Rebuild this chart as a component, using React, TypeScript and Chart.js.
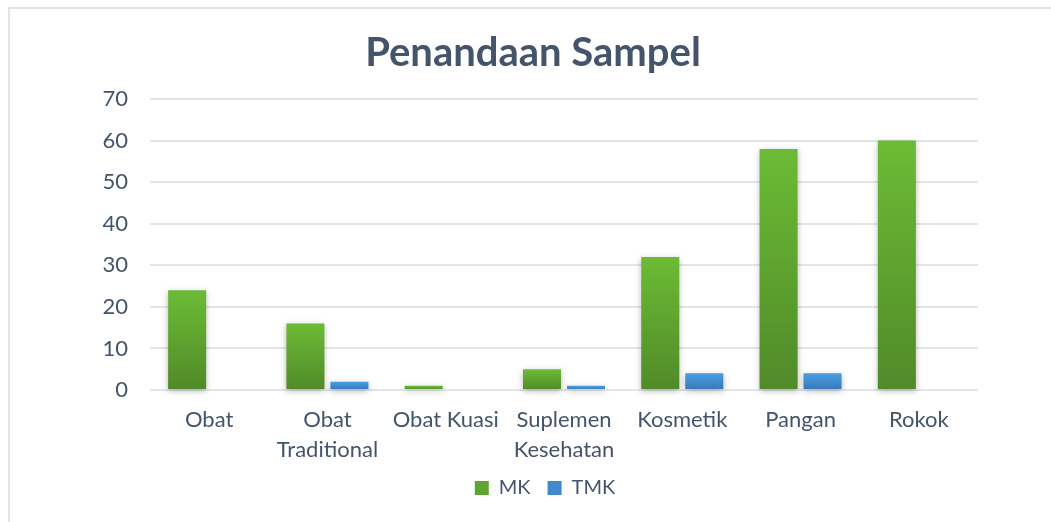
import React, { useEffect, useRef } from "react";
import { Chart, registerables } from "chart.js";

Chart.register(...registerables);

// ---- data ----
const categories: (string | string[])[] = [
  "Obat",
  ["Obat", "Traditional"],
  "Obat Kuasi",
  ["Suplemen", "Kesehatan"],
  "Kosmetik",
  "Pangan",
  "Rokok",
];
const seriesNames = ["MK", "TMK"];
const mkValues = [24, 16, 1, 5, 32, 58, 60];
const tmkValues = [0, 2, 0, 1, 4, 4, 0];
const yMin = 0;
const yMax = 70;
const yStep = 10;
const chartTitle = "Penandaan Sampel";

// ---- styles ----
const textColor = "#44546a";
const greenLight = "#6cbb35";
const greenDark = "#518a29";
const blueLight = "#4a9ee3";
const blueDark = "#3877b8";
const legendColors = ["#5ea431", "#4288d0"];

const makeFill = (light: string, dark: string) => (c: any) => {
  const chart = c.chart;
  const y = chart.scales && chart.scales.y;
  if (!y || c.type !== "data") return light;
  const v = c.parsed ? c.parsed.y : c.raw;
  const top = y.getPixelForValue(v);
  const base = y.getPixelForValue(0);
  if (!isFinite(top) || !isFinite(base) || Math.abs(base - top) < 1) return light;
  const g = chart.ctx.createLinearGradient(0, top, 0, base);
  g.addColorStop(0, light);
  g.addColorStop(1, dark);
  return g;
};

const shadowPlugin = {
  id: "barShadow",
  beforeDatasetsDraw(chart: any) {
    const c = chart.ctx;
    c.save();
    c.shadowColor = "rgba(0,0,0,0.28)";
    c.shadowBlur = 6;
    c.shadowOffsetX = 0;
    c.shadowOffsetY = 2;
  },
  afterDatasetsDraw(chart: any) {
    chart.ctx.restore();
  },
};

// nudges the (full width) legend so its items sit where the reference has them
const legendShiftPlugin = {
  id: "legendShift",
  afterLayout(chart: any) {
    if (chart.legend) {
      chart.legend.left += 12;
      chart.legend.right += 12;
    }
  },
};

export default function App() {
  const canvasRef = useRef<HTMLCanvasElement | null>(null);

  useEffect(() => {
    if (!canvasRef.current) return;
    const chart = new Chart(canvasRef.current, {
      type: "bar",
      data: {
        labels: categories,
        datasets: [
          {
            label: seriesNames[0],
            data: mkValues,
            backgroundColor: makeFill(greenLight, greenDark),
            borderWidth: 0,
            categoryPercentage: 0.744,
            barPercentage: 0.864,
            clip: false,
          } as any,
          {
            label: seriesNames[1],
            data: tmkValues,
            backgroundColor: makeFill(blueLight, blueDark),
            borderWidth: 0,
            categoryPercentage: 0.744,
            barPercentage: 0.864,
            clip: false,
          } as any,
        ],
      },
      options: {
        responsive: false,
        animation: false,
        layout: { padding: { left: 0, right: 0, top: 0, bottom: 14 } },
        plugins: {
          title: {
            display: true,
            text: chartTitle,
            color: textColor,
            font: { family: "Lato", size: 40, weight: "bold", lineHeight: 1.2 },
            padding: { top: 29, bottom: 22 },
          },
          legend: {
            position: "bottom",
            labels: {
              boxWidth: 14,
              boxHeight: 14,
              padding: 17,
              color: textColor,
              font: { family: "Lato", size: 20 },
              generateLabels: (ch: any) =>
                ch.data.datasets.map((ds: any, i: number) => ({
                  text: ds.label,
                  fillStyle: legendColors[i],
                  strokeStyle: legendColors[i],
                  lineWidth: 0,
                  hidden: false,
                  datasetIndex: i,
                  fontColor: textColor,
                })),
            },
          },
          tooltip: { enabled: false },
        },
        scales: {
          x: {
            grid: { display: false, drawTicks: false },
            border: { display: false },
            ticks: {
              color: textColor,
              font: { family: "Lato", size: 22, lineHeight: 30 / 22 },
              padding: 15,
              maxRotation: 0,
              autoSkip: false,
            },
            afterFit: (s: any) => {
              s.height = 71;
            },
          },
          y: {
            min: yMin,
            max: yMax,
            ticks: {
              stepSize: yStep,
              color: textColor,
              font: { family: "Lato", size: 22 },
              padding: 22,
            },
            grid: { color: "#e2e5e9", lineWidth: 2, drawTicks: false },
            border: { display: false },
            afterFit: (s: any) => {
              s.width = 142;
            },
          },
          yRight: {
            position: "right",
            display: true,
            grid: { display: false },
            border: { display: false },
            ticks: { display: false },
            afterFit: (s: any) => {
              s.width = 80;
            },
          },
        },
      } as any,
      plugins: [shadowPlugin, legendShiftPlugin],
    });
    return () => chart.destroy();
  }, []);

  return (
    <div
      style={{
        position: "fixed",
        left: 0,
        top: 0,
        width: "100vw",
        height: "100vh",
        overflow: "hidden",
        background: "#fff",
      }}
    >
      <div
        style={{
          position: "absolute",
          left: 8,
          top: 7,
          width: 1100,
          height: 600,
          border: "2px solid #e1e4e8",
          boxSizing: "border-box",
        }}
      />
      <div style={{ position: "absolute", left: 8, top: 0, width: 1050, height: 522 }}>
        <canvas ref={canvasRef} width={1050} height={522} />
      </div>
    </div>
  );
}
